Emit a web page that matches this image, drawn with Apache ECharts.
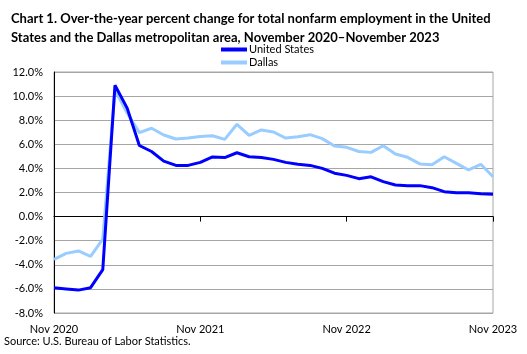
<!DOCTYPE html>
<html>
<head>
<meta charset="utf-8">
<script src="https://cdn.jsdelivr.net/npm/echarts@6/dist/echarts.min.js"></script>
<style>
  html, body { margin: 0; padding: 0; background: #fff; }
  #chart { width: 527px; height: 354px; }
</style>
</head>
<body>
<div id="chart"></div>
<script>
const months = [
  'Nov 2020', 'Dec 2020', 'Jan 2021', 'Feb 2021', 'Mar 2021', 'Apr 2021', 'May 2021', 'Jun 2021',
  'Jul 2021', 'Aug 2021', 'Sep 2021', 'Oct 2021', 'Nov 2021', 'Dec 2021', 'Jan 2022', 'Feb 2022',
  'Mar 2022', 'Apr 2022', 'May 2022', 'Jun 2022', 'Jul 2022', 'Aug 2022', 'Sep 2022', 'Oct 2022',
  'Nov 2022', 'Dec 2022', 'Jan 2023', 'Feb 2023', 'Mar 2023', 'Apr 2023', 'May 2023', 'Jun 2023',
  'Jul 2023', 'Aug 2023', 'Sep 2023', 'Oct 2023', 'Nov 2023'
];

const unitedStates = [
  -5.9, -6.0, -6.1, -5.9, -4.4, 10.9, 9.0, 5.9, 5.4, 4.6, 4.25, 4.25,
  4.5, 4.95, 4.9, 5.3, 4.97, 4.9, 4.75, 4.5, 4.35, 4.25, 4.0, 3.6,
  3.42, 3.15, 3.3, 2.9, 2.62, 2.57, 2.57, 2.4, 2.07, 1.98, 1.98, 1.9, 1.85
];

const dallas = [
  -3.55, -3.05, -2.85, -3.3, -1.86, 10.5, 8.6, 6.97, 7.33, 6.77, 6.44, 6.52,
  6.65, 6.71, 6.41, 7.66, 6.74, 7.19, 7.02, 6.52, 6.63, 6.8, 6.47, 5.86,
  5.75, 5.4, 5.33, 5.88, 5.2, 4.92, 4.37, 4.3, 4.97, 4.42, 3.87, 4.34, 3.31
];

const font = 'Lato, "Liberation Sans", sans-serif';
const chart = echarts.init(document.getElementById('chart'));

chart.setOption({
  animation: false,
  textStyle: { fontFamily: font },
  title: {
    text: 'Chart 1. Over-the-year percent change for total nonfarm employment in the United\nStates and the Dallas metropolitan area, November 2020\u2013November 2023',
    left: 6,
    top: 4,
    textStyle: { fontFamily: font, fontSize: 13, fontWeight: 'bold', color: '#000', lineHeight: 19 }
  },
  legend: {
    orient: 'vertical',
    left: 216,
    top: 39,
    itemWidth: 26,
    itemHeight: 4,
    itemGap: 2,
    icon: 'rect',
    textStyle: { fontFamily: font, fontSize: 11, color: '#000', padding: [0, 0, 0, -3] },
    data: ['United States', 'Dallas']
  },
  graphic: [{
    type: 'text',
    left: 4,
    top: 336,
    style: { text: 'Source: U.S. Bureau of Labor Statistics.', font: '11px ' + font, fill: '#000' }
  }],
  grid: {
    left: 54, right: 34, top: 72, bottom: 41,
    show: true, borderColor: '#a6a6a6', borderWidth: 1
  },
  xAxis: [{
    type: 'category',
    data: months,
    boundaryGap: false,
    axisLine: { onZero: true, lineStyle: { color: '#000', width: 1 } },
    axisTick: { show: true, length: 5, interval: i => i % 12 === 0, lineStyle: { color: '#000' } },
    axisLabel: { show: false },
    splitLine: { show: false }
  }, {
    type: 'category',
    data: months,
    boundaryGap: false,
    position: 'bottom',
    axisLine: { show: false, onZero: false },
    axisTick: { show: false },
    axisLabel: {
      interval: 11,
      margin: 11,
      fontFamily: font,
      fontSize: 11,
      color: '#000'
    },
    splitLine: { show: false }
  }],
  yAxis: {
    type: 'value',
    min: -8,
    max: 12,
    interval: 2,
    axisLine: { show: true, lineStyle: { color: '#000' } },
    axisTick: { show: false },
    axisLabel: {
      margin: 11,
      fontFamily: font,
      fontSize: 11,
      color: '#000',
      formatter: v => v.toFixed(1) + '%'
    },
    splitLine: { lineStyle: { color: '#a6a6a6', width: 1 } }
  },
  series: [{
    name: 'United States',
    type: 'line',
    data: unitedStates,
    symbol: 'none',
    color: '#0000ff',
    lineStyle: { width: 3, color: '#0000ff' },
    z: 3
  }, {
    name: 'Dallas',
    type: 'line',
    data: dallas,
    symbol: 'none',
    color: '#99ccff',
    lineStyle: { width: 3, color: '#99ccff' },
    z: 2
  }]
});
</script>
</body>
</html>
